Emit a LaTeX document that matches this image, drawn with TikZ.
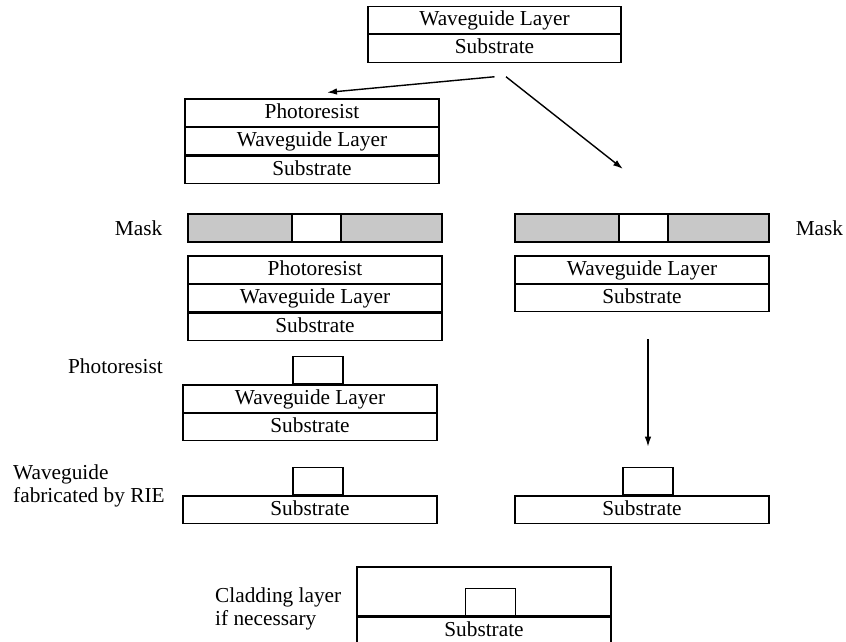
\documentclass[tikz,border=0pt]{standalone}
\usepackage{fontspec}
\setmainfont{Liberation Serif}
\usetikzlibrary{positioning,arrows.meta}
\definecolor{maskgray}{RGB}{200,200,200}
\begin{document}
\begin{tikzpicture}[x=1pt,y=-1pt,
    font=\fontsize{21.3}{23}\selectfont,
    layer/.style={draw,line width=1.2pt,minimum width=254pt,minimum height=27.3pt,
      inner sep=0pt,text height=15pt,text depth=4pt},
    rib/.style={draw,line width=1.2pt,minimum width=50pt,minimum height=27.5pt,inner sep=0pt},
    maskbar/.style={draw,line width=1.2pt,fill=maskgray,minimum width=254pt,minimum height=28pt,inner sep=0pt},
    slot/.style={draw,line width=1.2pt,fill=white,minimum width=49pt,minimum height=28pt,inner sep=0pt},
    tag/.style={inner sep=0pt},
    flow/.style={line width=1.4pt,-{Latex[length=10pt,width=6.5pt]}}]
  \useasboundingbox (0,0) rectangle (846,642);
  \clip (0,0) rectangle (846,642);
  % starting wafer
  \draw
    (494.5,20) node[layer,minimum width=253pt] (topwg){Waveguide Layer};
  \node[layer,minimum width=253pt,below=0pt of topwg] (topsub){Substrate};
  % left branch: photoresist route
  \draw
    (312,112.7) node[layer] (lpr1){Photoresist};
  \node[layer,below=0pt of lpr1] (lwg1){Waveguide Layer};
  \node[layer,below=0pt of lwg1] (lsub1){Substrate};
  \draw
    (315,228) node[maskbar] (lmask){};
  \node[slot] (lslot) at ([xshift=1.5pt]lmask.center) {};
  \node[tag,left=25pt of lmask] (lmasklabel){Mask};
  \draw
    (315,269.65) node[layer] (lpr2){Photoresist};
  \node[layer,below=0pt of lpr2] (lwg2){Waveguide Layer};
  \node[layer,below=0pt of lwg2] (lsub2){Substrate};
  \draw
    (310,398.65) node[layer] (lwg3){Waveguide Layer};
  \node[layer,below=0pt of lwg3] (lsub3){Substrate};
  \node[rib,above=0pt of lwg3,xshift=8pt] (lpr3){};
  \node[tag,anchor=east] (prlabel) at (163,366) {Photoresist};
  \draw
    (310,509.65) node[layer] (lsub4){Substrate};
  \node[rib,above=0pt of lsub4,xshift=8pt] (lrib){};
  \node[tag,anchor=west,align=left] (rielabel) at (13,486) {Waveguide\\fabricated by RIE};
  % right branch: direct route
  \draw
    (642,228) node[maskbar] (rmask){};
  \node[slot] (rslot) at ([xshift=1.5pt]rmask.center) {};
  \node[tag,right=26pt of rmask] (rmasklabel){Mask};
  \draw
    (642,269.65) node[layer] (rwg1){Waveguide Layer};
  \node[layer,below=0pt of rwg1] (rsub1){Substrate};
  \draw
    (642,509.65) node[layer] (rsub2){Substrate};
  \node[rib,above=0pt of rsub2,xshift=6pt] (rrib){};
  % cladding
  \draw
    (484,591.5) node[layer,minimum height=49pt] (clad){};
  \node[layer,below=0pt of clad] (csub){Substrate};
  \node[rib,above=0pt of csub,xshift=6.5pt] (crib){};
  \node[tag,anchor=west,align=left] (cladlabel) at (215,609) {Cladding layer\\if necessary};
  % process arrows
  \coordinate (rtip) at (623,169);
  \begin{scope}[flow]
    \draw ([yshift=-14pt]topsub.south) to ([shift={(15,-6)}]lpr1.north);
    \draw ([shift={(11.5,14)}]topsub.south) to (rtip);
    \draw ([shift={(6,27)}]rsub1.south) to ([shift={(0,-20)}]rrib.north);
  \end{scope}
\end{tikzpicture}
\end{document}
